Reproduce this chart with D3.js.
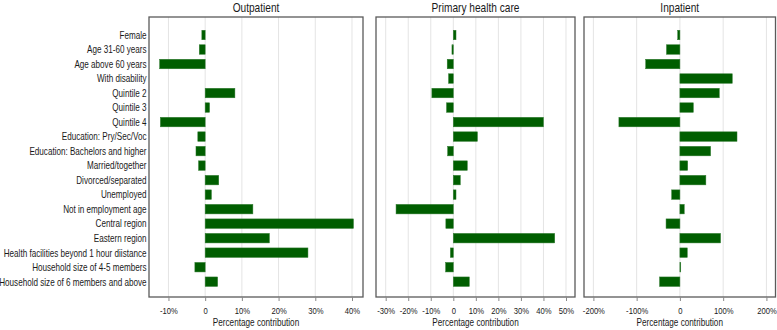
<!DOCTYPE html>
<html>
<head>
<meta charset="utf-8">
<script src="https://cdn.jsdelivr.net/npm/d3@7"></script>
<style>
  body { margin: 0; background: #fff; }
  svg text { font-family: "Liberation Sans", Arial, sans-serif; fill: #1a1a1a; }
</style>
</head>
<body>
<div id="chart"></div>
<script>
// categories (top to bottom)
var categories = [
  "Female", "Age 31-60 years", "Age above 60 years", "With disability",
  "Quintile 2", "Quintile 3", "Quintile 4", "Education: Pry/Sec/Voc",
  "Education: Bachelors and higher", "Married/together", "Divorced/separated",
  "Unemployed", "Not in employment age", "Central region", "Eastern region",
  "Health facilities beyond 1 hour diistance", "Household size of 4-5 members",
  "Household size of 6 members and above"
];

// percentage contribution per panel
var outpatient = [-0.9, -1.6, -12.4, 0, 8.1, 1.2, -12.2, -2.0, -2.5, -1.8, 3.7, 1.7, 13.0, 40.4, 17.5, 28.0, -2.8, 3.4];
var primaryCare = [1.2, -0.6, -2.7, -2.1, -9.5, -3.0, 40.0, 10.7, -2.5, 6.2, 3.1, 1.2, -25.4, -3.3, 45.0, -1.3, -3.4, 7.1];
var inpatient = [-5, -31, -79, 121, 91, 31, -141, 132, 71, 18, 60, -19, 10, -32, 94, 17, 2, -47];

var outTicks = [-10, 0, 10, 20, 30, 40];
var phcTicks = [-30, -20, -10, 0, 10, 20, 30, 40, 50];
var inTicks = [-200, -100, 0, 100, 200];

var W = 777, H = 330;
var plotTop = 17, plotBottom = 297;
var narrow = "scale(0.78,1)"; // the original uses a condensed face

var svg = d3.select("#chart").append("svg")
  .attr("width", W)
  .attr("height", H);

var y = d3.scalePoint()
  .domain(categories)
  .range([35, 281.7]);

var barH = 9.5;

// category labels on the left
svg.append("g")
  .attr("transform", "translate(146.5,0)")
  .call(d3.axisLeft(y).tickSize(0).tickPadding(0))
  .call(function(g) { g.select(".domain").remove(); })
  .selectAll("text")
  .attr("font-size", "10.4px")
  .attr("fill", "#1a1a1a")
  .attr("transform", narrow);

function drawPanel(title, values, ticks, x0, x1, domain) {
  var x = d3.scaleLinear().domain(domain).range([x0, x1]);
  var g = svg.append("g");

  // gridlines
  g.selectAll("line.grid")
    .data(ticks)
    .enter().append("line")
    .attr("class", "grid")
    .attr("x1", function(d) { return x(d); })
    .attr("x2", function(d) { return x(d); })
    .attr("y1", plotTop)
    .attr("y2", plotBottom)
    .attr("stroke", "#e4e4e4")
    .attr("stroke-width", 1);

  // bars
  g.selectAll("rect.bar")
    .data(values)
    .enter().append("rect")
    .attr("class", "bar")
    .attr("x", function(d) { return x(Math.min(0, d)); })
    .attr("y", function(d, i) { return y(categories[i]) - barH / 2; })
    .attr("width", function(d) { return Math.abs(x(d) - x(0)); })
    .attr("height", barH)
    .attr("fill", "#005e00")
    .attr("stroke", "#2e7a2e")
    .attr("stroke-width", 0.5);

  // frame
  g.append("rect")
    .attr("x", x0)
    .attr("y", plotTop)
    .attr("width", x1 - x0)
    .attr("height", plotBottom - plotTop)
    .attr("fill", "none")
    .attr("stroke", "#5a5a5a")
    .attr("stroke-width", 1.3);

  // x axis
  var axis = d3.axisBottom(x)
    .tickValues(ticks)
    .tickSize(4)
    .tickPadding(6)
    .tickFormat(function(d) { return d === 0 ? "0" : d + "%"; });

  var ax = g.append("g")
    .attr("transform", "translate(0," + plotBottom + ")")
    .call(axis)
    .call(function(a) { a.select(".domain").remove(); });
  ax.selectAll(".tick line").attr("stroke", "#888");
  ax.selectAll("text")
    .attr("font-size", "9.8px")
    .attr("fill", "#333")
    .attr("transform", narrow);

  // x label
  g.append("g")
    .attr("transform", "translate(" + (x0 + x1) / 2 + ",326)")
    .append("text")
    .attr("text-anchor", "middle")
    .attr("font-size", "10.5px")
    .attr("transform", narrow)
    .text("Percentage contribution");

  // title
  g.append("g")
    .attr("transform", "translate(" + (x0 + x1) / 2 + ",11.5)")
    .append("text")
    .attr("text-anchor", "middle")
    .attr("font-size", "13px")
    .attr("transform", narrow)
    .text(title);

  return x;
}

drawPanel("Outpatient", outpatient, outTicks, 149, 363, [-15.3, 43]);
drawPanel("Primary health care", primaryCare, phcTicks, 376, 575, [-34.3, 54]);
drawPanel("Inpatient", inpatient, inTicks, 584, 775.5, [-221.7, 221]);
</script>
</body>
</html>
